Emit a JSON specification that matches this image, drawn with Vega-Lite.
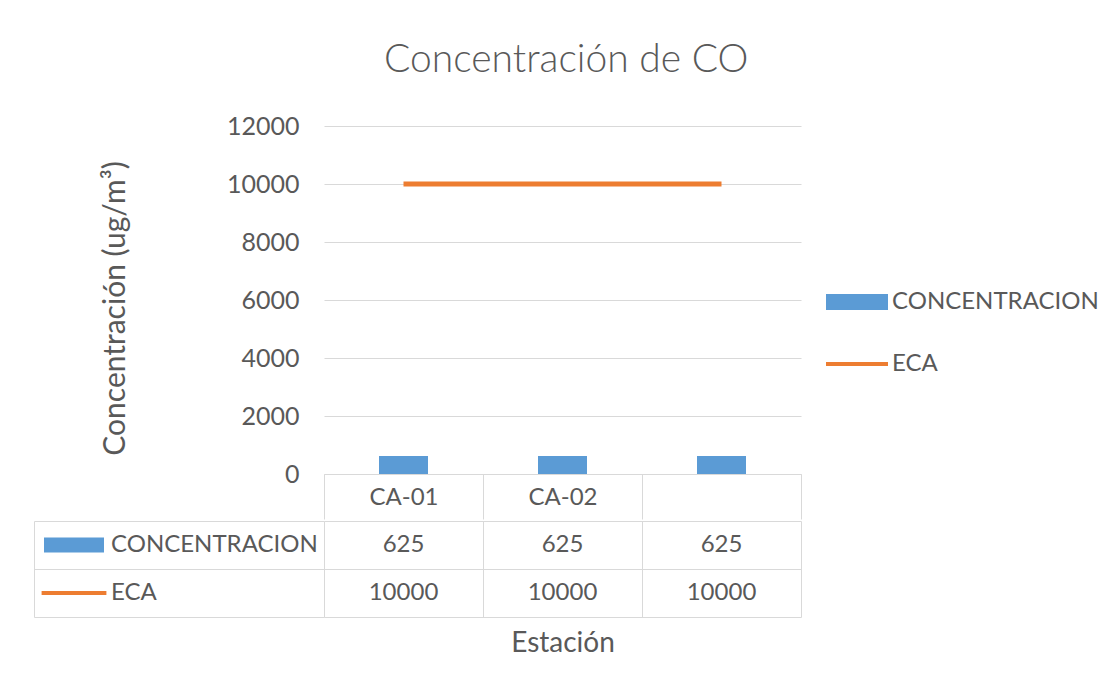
{
  "$schema": "https://vega.github.io/schema/vega-lite/v6.json",
  "background": "white",
  "padding": {"left": 33, "top": 41, "right": 5, "bottom": 5},
  "title": {"text": "Concentración de CO", "fontSize": 39, "font": "Lato", "fontWeight": 300, "color": "#595959", "anchor": "middle", "offset": 34},
  "datasets": {
    "co": [
      {"estacion": "CA-01", "serie": "CONCENTRACION", "valor": 625},
      {"estacion": "CA-02", "serie": "CONCENTRACION", "valor": 625},
      {"estacion": "", "serie": "CONCENTRACION", "valor": 625},
      {"estacion": "CA-01", "serie": "ECA", "valor": 10000},
      {"estacion": "CA-02", "serie": "ECA", "valor": 10000},
      {"estacion": "", "serie": "ECA", "valor": 10000}
    ]
  },
  "spacing": 0,
  "resolve": {"scale": {"color": "independent"}, "legend": {"color": "independent"}},
  "vconcat": [
    {
      "width": 477,
      "height": 348,
      "view": {"stroke": null},
      "data": {"name": "co"},
      "encoding": {
        "x": {
          "field": "estacion", "type": "nominal", "sort": null,
          "scale": {"domain": ["CA-01", "CA-02", ""], "paddingInner": 0, "paddingOuter": 0},
          "axis": {"title": null, "orient": "bottom", "tickBand": "extent", "tickSize": 45, "tickColor": "#d9d9d9", "domainColor": "#d9d9d9", "labelAngle": 0, "labelBaseline": "middle", "labelPadding": -22, "labelFontSize": 24, "labelColor": "#595959", "labelFont": "Lato", "grid": false}
        },
        "y": {
          "field": "valor", "type": "quantitative",
          "scale": {"domain": [0, 12000], "nice": false},
          "axis": {"title": "Concentración (ug/m³)", "titleY": 182, "values": [0, 2000, 4000, 6000, 8000, 10000, 12000], "format": "d", "grid": true, "gridColor": "#d9d9d9", "domain": false, "ticks": false, "labelPadding": 25, "labelFontSize": 25, "labelColor": "#595959", "labelFont": "Lato", "titleFont": "Lato", "titleFontSize": 30, "titleFontWeight": "normal", "titleColor": "#595959", "titlePadding": 96}
        },
        "color": {
          "field": "serie", "type": "nominal",
          "scale": {"domain": ["CONCENTRACION", "ECA"], "range": ["#5B9BD5", "#ED7D31"]},
          "legend": {
            "orient": "none", "legendX": 521, "legendY": 164, "title": null, "padding": 0, "rowPadding": 38, "labelOffset": 23,
            "labelFontSize": 24, "labelFont": "Lato", "labelColor": "#595959", "symbolSize": 3844, "labelLimit": 400,
            "encode": {
              "symbols": {
                "update": {
                  "shape": {"signal": "datum.value === 'ECA' ? 'M-1,0H1' : 'M-1,-0.26H1V0.26H-1Z'"},
                  "fill": {"signal": "datum.value === 'ECA' ? 'transparent' : '#5B9BD5'"},
                  "stroke": {"signal": "datum.value === 'ECA' ? '#ED7D31' : 'transparent'"},
                  "strokeWidth": {"signal": "datum.value === 'ECA' ? 4 : 0"},
                  "opacity": {"value": 1}
                }
              }
            }
          }
        }
      },
      "layer": [
        {"transform": [{"filter": "datum.serie === 'CONCENTRACION'"}], "mark": {"type": "bar", "size": 49}},
        {"transform": [{"filter": "datum.serie === 'ECA'"}], "mark": {"type": "line", "strokeWidth": 5}}
      ]
    },
    {
      "width": 477,
      "height": 96,
      "view": {"stroke": null},
      "data": {"name": "co"},
      "encoding": {
        "x": {
          "field": "estacion", "type": "nominal", "sort": null,
          "scale": {"domain": ["CA-01", "CA-02", ""], "paddingInner": 0, "paddingOuter": 0},
          "axis": {"title": "Estación", "orient": "bottom", "labels": false, "ticks": false, "domain": false, "grid": true, "tickBand": "extent", "gridColor": "#d9d9d9", "titleFont": "Lato", "titleFontSize": 28, "titleFontWeight": "normal", "titleColor": "#595959", "titlePadding": 12}
        },
        "y": {
          "field": "serie", "type": "nominal", "sort": null,
          "scale": {"domain": ["CONCENTRACION", "ECA"], "paddingInner": 0, "paddingOuter": 0},
          "axis": {"title": null, "orient": "left", "offset": 290, "labels": false, "ticks": true, "tickBand": "extent", "tickSize": -290, "tickColor": "#d9d9d9", "domain": true, "domainColor": "#d9d9d9", "grid": true, "gridColor": "#d9d9d9"}
        }
      },
      "layer": [
        {
          "mark": {"type": "text", "font": "Lato", "fontSize": 24, "color": "#595959"},
          "encoding": {"text": {"field": "valor", "type": "quantitative", "format": "d"}}
        },
        {
          "transform": [{"filter": "false"}],
          "mark": {"type": "bar"},
          "encoding": {
            "color": {
              "field": "serie", "type": "nominal",
              "scale": {"domain": ["CONCENTRACION", "ECA"], "range": ["#5B9BD5", "#ED7D31"]},
              "legend": {
                "orient": "none", "legendX": -262, "legendY": 12, "title": null, "padding": 0, "rowPadding": 24, "labelOffset": 25,
                "labelFontSize": 24, "labelFont": "Lato", "labelColor": "#595959", "symbolSize": 2304, "labelLimit": 400,
                "encode": {
                  "symbols": {
                    "update": {
                      "shape": {"signal": "datum.value === 'ECA' ? 'M-1.35,0H1.35' : 'M-1.25,-0.31H1.25V0.31H-1.25Z'"},
                      "fill": {"signal": "datum.value === 'ECA' ? 'transparent' : '#5B9BD5'"},
                      "stroke": {"signal": "datum.value === 'ECA' ? '#ED7D31' : 'transparent'"},
                      "strokeWidth": {"signal": "datum.value === 'ECA' ? 4 : 0"},
                      "opacity": {"value": 1}
                    }
                  }
                }
              }
            }
          }
        }
      ]
    }
  ]
}
